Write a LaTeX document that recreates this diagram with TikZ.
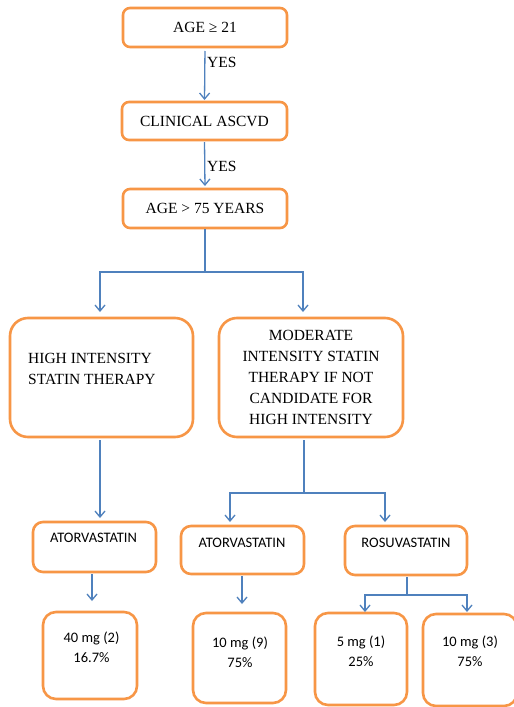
\documentclass[tikz,border=0pt]{standalone}
\usepackage{fontspec}
\setmainfont{Liberation Serif}
\newfontfamily\calfont{Carlito}
\usetikzlibrary{arrows.meta}
\definecolor{boxorange}{HTML}{F79646}
\definecolor{lineblue}{HTML}{4F81BD}
\tikzset{
  box/.style={draw=boxorange, line width=2.6pt, fill=white, rectangle, inner sep=0pt, outer sep=0pt},
  toptext/.style={font=\fontsize{15.5}{21}\selectfont, inner sep=0pt, align=center},
  caltext/.style={font=\calfont\fontsize{14.5}{20}\selectfont, inner sep=0pt, align=center},
  conn/.style={draw=lineblue, line width=1.3pt},
  arr/.style={conn, -{Straight Barb[length=6pt,width=10pt]}},
}
\begin{document}
\begin{tikzpicture}[x=1pt,y=-1pt]
\clip (0,0) rectangle (514,707);
\fill[white] (0,0) rectangle (514,707);
% top chain
\node[box, rounded corners=7pt, minimum width=164pt, minimum height=39pt, toptext] (b1) at (205,27.5) {AGE ≥ 21};
\node[box, rounded corners=7pt, minimum width=165pt, minimum height=38pt, toptext] (b2) at (204.5,121) {CLINICAL ASCVD};
\node[box, rounded corners=7pt, minimum width=164pt, minimum height=39pt, toptext] (b3) at (205,208.5) {AGE \textgreater{} 75 YEARS};
\draw[arr, shorten <=4pt, shorten >=2pt] (b1.south) -- (b2.north);
\draw[arr, shorten <=2pt, shorten >=3pt] (b2.south) -- (b3.north);
\node[toptext, anchor=west] (y1) at (207,62) {YES};
\node[toptext, anchor=west] (y2) at (207,166) {YES};
% second level
\node[box, rounded corners=18pt, minimum width=183pt, minimum height=119pt] (b4) at (101.5,377.5) {};
\node[toptext, anchor=west, align=left] (t4) at (28,368.5) {HIGH INTENSITY\\STATIN THERAPY};
\node[box, rounded corners=18pt, minimum width=184pt, minimum height=119pt, toptext] (b5) at (311,377.5) {MODERATE\\INTENSITY STATIN\\THERAPY IF NOT\\CANDIDATE FOR\\HIGH INTENSITY};
\coordinate (j1) at (205,272);
\coordinate (a4) at (100,312);
\coordinate (a5) at (303,312);
\draw[conn, shorten <=1pt] (b3.south) -- (j1);
\draw[arr] (j1) -| (a4);
\draw[arr] (j1) -| (a5);
% third level
\node[box, rounded corners=10pt, minimum width=123pt, minimum height=50pt] (b6) at (94.5,547) {};
\node[caltext] (t6) at (93.5,538) {ATORVASTATIN};
\node[box, rounded corners=10pt, minimum width=123pt, minimum height=48pt] (b7) at (242.5,550) {};
\node[caltext] (t7) at (242,543) {ATORVASTATIN};
\node[box, rounded corners=10pt, minimum width=122pt, minimum height=49pt] (b8) at (406,550.5) {};
\node[caltext] (t8) at (406,543) {ROSUVASTATIN};
\coordinate (s4) at (100,440);
\coordinate (a6) at (100,518);
\draw[arr] (s4) -- (a6);
\coordinate (s5) at (304,440);
\coordinate (j2) at (304,493);
\coordinate (a7) at (230,522);
\coordinate (a8) at (385,522);
\draw[conn] (s5) -- (j2);
\draw[arr] (j2) -| (a7);
\draw[arr] (j2) -| (a8);
% bottom level
\node[box, rounded corners=13pt, minimum width=94pt, minimum height=87pt] (b9) at (90,655.5) {};
\node[caltext] (t9) at (91.5,647.5) {40 mg (2)\\16.7\%};
\node[box, rounded corners=13pt, minimum width=93pt, minimum height=90pt] (b10) at (239.5,658) {};
\node[caltext] (t10) at (240,652) {10 mg (9)\\75\%};
\node[box, rounded corners=13pt, minimum width=92pt, minimum height=92pt] (b11) at (361,659) {};
\node[caltext] (t11) at (361,651) {5 mg (1)\\25\%};
\node[box, rounded corners=13pt, minimum width=94pt, minimum height=92pt] (b12) at (470,660) {};
\node[caltext] (t12) at (470,651) {10 mg (3)\\75\%};
\coordinate (s6) at (92,574);
\coordinate (a9) at (92,601);
\draw[arr] (s6) -- (a9);
\coordinate (s7) at (242,576);
\coordinate (a10) at (242,604);
\draw[arr] (s7) -- (a10);
\coordinate (s8) at (407,577);
\coordinate (j3) at (407,595);
\coordinate (a11) at (365,612);
\coordinate (a12) at (467,612);
\draw[conn] (s8) -- (j3);
\draw[arr] (j3) -| (a11);
\draw[arr] (j3) -| (a12);
\end{tikzpicture}
\end{document}
